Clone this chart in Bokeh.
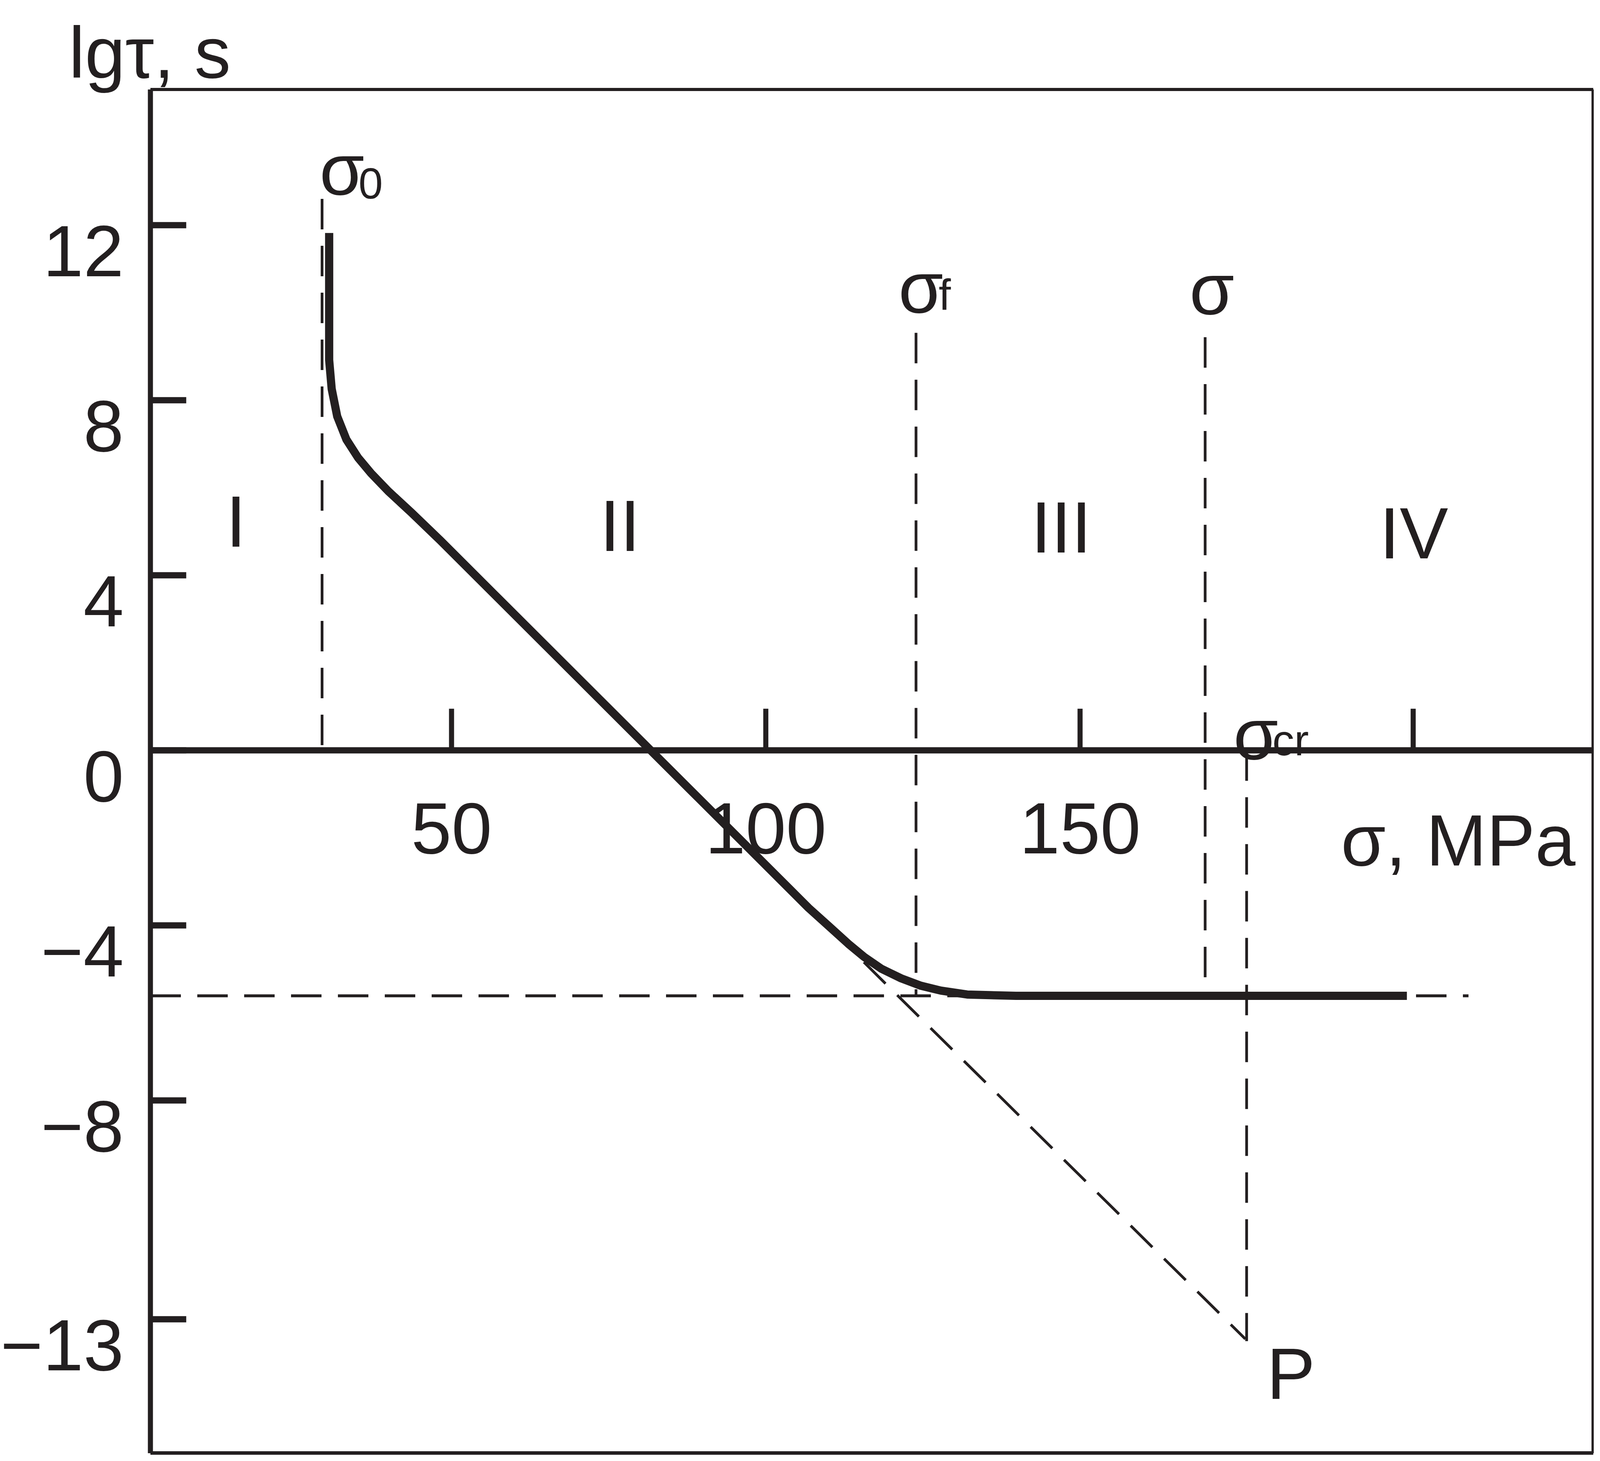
from bokeh.plotting import figure
from bokeh.models import Range1d
from bokeh.core.properties import value
from bokeh.embed import file_html
from bokeh.resources import INLINE

INK = "#231f20"
FONT = "Liberation Sans"

# durability curve lg(tau) against stress sigma, MPa
curve_sigma = [30.53, 30.53, 30.93, 31.81, 33.28, 35.11, 37.20, 39.95, 43.63, 48.19,
               106.8, 109.97, 113.12, 115.64, 118.38, 121.53, 124.69, 127.84, 132.04,
               139.8, 202.0]
curve_lgt = [11.82, 8.92, 8.26, 7.63, 7.10, 6.69, 6.33, 5.92, 5.43, 4.80,
             -3.60, -4.01, -4.42, -4.72, -4.99, -5.21, -5.38, -5.49, -5.58,
             -5.61, -5.61]

# straight part extrapolated down to the pole P
extrap_sigma = [115.6, 176.3]
extrap_lgt = [-4.84, -13.45]

# lower limit of lg(tau)
lgt_min = -5.61
asym_sigma = [2.09, 211.8]

# characteristic stresses: sigma_0, sigma_f, sigma-bar, sigma_cr
char_sigma = [29.4, 123.9, 169.9, 176.5]
char_top = [12.6, 9.54, 9.44, 0.0]
char_bottom = [0.0, -5.61, -5.61, -13.5]

# axes box and ticks
sigma_lo, sigma_hi = 2.09, 231.65
lgt_lo, lgt_hi = -16.06, 15.10
y_ticks = [12, 8, 4, 0, -4, -8, -13]
x_ticks = [50, 100, 150, 203]
x_tick_labels = ["50", "100", "150", ""]

# regions
region_names = ["I", "II", "III", "IV"]
region_x = [15.7, 76.8, 147.0, 203.1]
region_y = [5.23, 5.13, 5.10, 4.96]

p = figure(width=4080, height=3723,
           x_range=Range1d(-21.81, 231.76), y_range=Range1d(-16.10, 17.14),
           output_backend="svg", toolbar_location=None,
           x_axis_location=None, y_axis_location=None, min_border=0)
p.grid.visible = False
p.outline_line_color = None
p.background_fill_color = "white"
p.border_fill_color = "white"

dash = "78 42"
big = value("186px")
small = value("112px")

# frame
p.segment(x0=[sigma_lo, sigma_lo, sigma_hi, sigma_lo], y0=[lgt_lo, lgt_hi, lgt_hi, lgt_lo],
          x1=[sigma_lo, sigma_hi, sigma_hi, sigma_hi], y1=[lgt_hi, lgt_hi, lgt_lo, lgt_lo],
          line_color=INK, line_width=[13, 8, 9, 10])

# lg(tau) ticks and labels on the left edge
p.segment(x0=[sigma_lo] * len(y_ticks), y0=y_ticks, x1=[sigma_lo + 5.7] * len(y_ticks), y1=y_ticks,
          line_color=INK, line_width=16)
y_labels = [("\u2212" + str(-t)) if t < 0 else str(t) for t in y_ticks]
p.text(x=[-2.15] * len(y_ticks), y=[t - 0.6 for t in y_ticks], text=y_labels,
       text_font=value(FONT), text_font_size=big, text_color=INK,
       text_align="right", text_baseline="alphabetic")

# sigma axis drawn through lg(tau) = 0
p.line([sigma_lo, sigma_hi], [0, 0], line_color=INK, line_width=16)
p.segment(x0=x_ticks, y0=[0] * len(x_ticks), x1=x_ticks, y1=[0.95] * len(x_ticks),
          line_color=INK, line_width=13)
p.text(x=x_ticks, y=[-1.78] * len(x_ticks), text=x_tick_labels,
       text_font=value(FONT), text_font_size=big, text_color=INK,
       text_align="center", text_baseline="alphabetic")

# dashed construction lines
p.segment(x0=char_sigma, y0=char_top, x1=char_sigma, y1=char_bottom,
          line_color=INK, line_width=7, line_dash=dash)
p.line(asym_sigma, [lgt_min, lgt_min], line_color=INK, line_width=7.5, line_dash=dash)
p.line(extrap_sigma, extrap_lgt, line_color=INK, line_width=7, line_dash=dash)

# the curve
p.line(curve_sigma, curve_lgt, line_color=INK, line_width=21, line_join="round")

# region numbers
p.text(x=region_x, y=region_y, text=region_names,
       text_font=value(FONT), text_font_size=big, text_color=INK,
       text_align="center", text_baseline="alphabetic")

# axis titles, stress symbols and pole
main_text = ["lgτ, s", "σ, MPa", "P", "σ", "σ", "σ", "σ"]
main_x = [-10.9, 191.5, 179.7, 29.0, 121.1, 167.4, 174.4]
main_y = [15.94, -2.06, -14.24, 13.27, 10.58, 10.54, 0.375]
p.text(x=main_x, y=main_y, text=main_text,
       text_font=value(FONT), text_font_size=big, text_color=INK,
       text_align="left", text_baseline="alphabetic")

sub_text = ["0", "f", "cr"]
sub_x = [35.2, 127.5, 180.6]
sub_y = [12.95, 10.41, 0.23]
p.text(x=sub_x, y=sub_y, text=sub_text,
       text_font=value(FONT), text_font_size=small, text_color=INK,
       text_align="left", text_baseline="alphabetic")

open("out.html", "w").write(file_html(p, INLINE))
